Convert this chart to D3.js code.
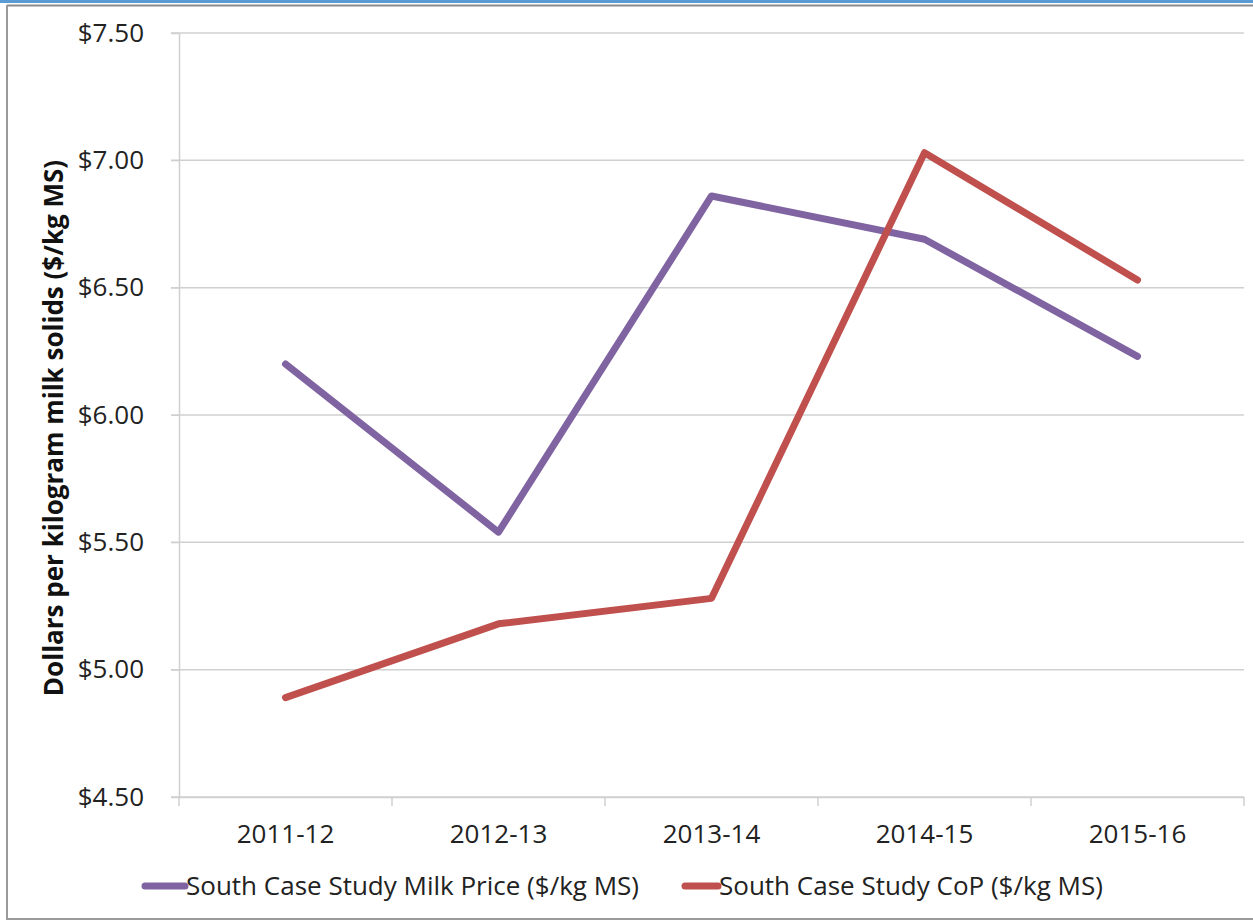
<!DOCTYPE html>
<html lang="en">
<head>
<meta charset="UTF-8">
<title>South Case Study</title>
<script src="https://d3js.org/d3.v7.min.js"></script>
<style>
  body { margin: 0; background: #fff; }
  svg { display: block; font-family: "Open Sans", "Noto Sans", sans-serif; }
</style>
</head>
<body>
<svg width="1253" height="921"></svg>
<script>
var seasons = ["2011-12", "2012-13", "2013-14", "2014-15", "2015-16"];
var milkPrice = [6.20, 5.54, 6.86, 6.69, 6.23];
var costOfProd = [4.89, 5.18, 5.28, 7.03, 6.53];
var yTicks = [4.5, 5.0, 5.5, 6.0, 6.5, 7.0, 7.5];
var seriesNames = ["South Case Study Milk Price ($/kg MS)", "South Case Study CoP ($/kg MS)"];
var colors = ["#8064a2", "#c0504d"];

var svg = d3.select("svg");

// frame
svg.append("rect").attr("x", 0).attr("y", 0).attr("width", 1253).attr("height", 3).attr("fill", "#5b9bd5");
svg.append("line").attr("x1", 7).attr("x2", 1253).attr("y1", 5.5).attr("y2", 5.5).attr("stroke", "#8c8c8c").attr("stroke-width", 2);
svg.append("line").attr("x1", 7).attr("x2", 7).attr("y1", 5).attr("y2", 920).attr("stroke", "#9a9a9a").attr("stroke-width", 2);
svg.append("line").attr("x1", 7).attr("x2", 1253).attr("y1", 919).attr("y2", 919).attr("stroke", "#9a9a9a").attr("stroke-width", 2);

var pLeft = 179, pRight = 1244, pTop = 33, pBottom = 797;
var x = d3.scaleBand().domain(seasons).range([pLeft, pRight]);
var y = d3.scaleLinear().domain([4.5, 7.5]).range([pBottom, pTop]);

// gridlines
svg.append("g").selectAll("line").data(yTicks).enter().append("line")
  .attr("x1", pLeft - 8).attr("x2", pRight)
  .attr("y1", function (d) { return y(d); }).attr("y2", function (d) { return y(d); })
  .attr("stroke", "#d0d0d0").attr("stroke-width", 1.5);

// y axis
var yAxis = svg.append("g").attr("transform", "translate(" + pLeft + ",0)")
  .call(d3.axisLeft(y).tickValues(yTicks).tickSize(8).tickPadding(27).tickFormat(d3.format("$.2f")));
yAxis.select(".domain").attr("stroke", "#d0d0d0").attr("stroke-width", 1.5);
yAxis.selectAll(".tick line").attr("stroke", "#d0d0d0");
yAxis.selectAll("text").attr("font-size", 26).attr("fill", "#222").attr("font-family", "Open Sans");

// x axis
var xAxis = svg.append("g").attr("transform", "translate(0," + pBottom + ")")
  .call(d3.axisBottom(x).tickSize(0).tickPadding(28));
xAxis.select(".domain").attr("stroke", "#d0d0d0").attr("stroke-width", 1.5);
xAxis.selectAll("text").attr("font-size", 26).attr("fill", "#222").attr("font-family", "Open Sans");
svg.append("g").selectAll("line").data(seasons.concat(["end"])).enter().append("line")
  .attr("x1", function (d, i) { return pLeft + i * x.step(); })
  .attr("x2", function (d, i) { return pLeft + i * x.step(); })
  .attr("y1", pBottom).attr("y2", pBottom + 9)
  .attr("stroke", "#d0d0d0").attr("stroke-width", 1.5);

// y title
svg.append("text")
  .attr("transform", "translate(63," + ((pTop + pBottom) / 2 + 13) + ") rotate(-90)")
  .attr("text-anchor", "middle").attr("font-size", 26).attr("font-weight", "bold").attr("fill", "#111")
  .text("Dollars per kilogram milk solids ($/kg MS)");

// lines
var line = d3.line().x(function (d, i) { return x(seasons[i]) + x.bandwidth() / 2; }).y(function (d) { return y(d); });
[milkPrice, costOfProd].forEach(function (s, k) {
  svg.append("path").datum(s).attr("d", line)
    .attr("fill", "none").attr("stroke", colors[k]).attr("stroke-width", 7)
    .attr("stroke-linecap", "round").attr("stroke-linejoin", "round");
});

// legend
var legendX = [145, 685];
seriesNames.forEach(function (n, k) {
  var g = svg.append("g").attr("transform", "translate(" + legendX[k] + ",886)");
  g.append("line").attr("x1", 0).attr("x2", k === 0 ? 40 : 33).attr("y1", 0).attr("y2", 0)
    .attr("stroke", colors[k]).attr("stroke-width", 7).attr("stroke-linecap", "round");
  g.append("text").attr("x", k === 0 ? 41 : 34).attr("y", 9).attr("font-size", 26).attr("fill", "#222").text(n);
});
</script>
</body>
</html>
